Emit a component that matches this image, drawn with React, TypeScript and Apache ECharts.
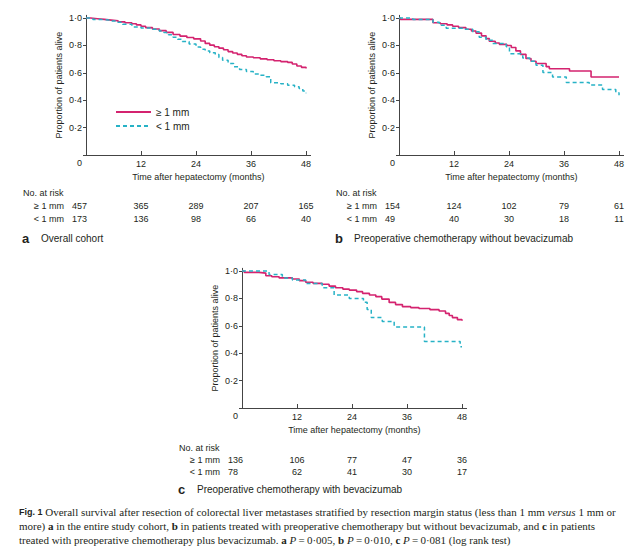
import React, { useEffect, useRef } from 'react';
import * as echarts from 'echarts';

// ---------- data ----------
const groupNames = ['≥ 1 mm', '< 1 mm'];
const xTickValues = [0, 12, 24, 36, 48];
const xLabelValues = [12, 24, 36, 48];
const yTickValues = [0, 0.2, 0.4, 0.6, 0.8, 1.0];
const yLabelValues = [0.2, 0.4, 0.6, 0.8, 1.0];
const riskTimes = [0, 12, 24, 36, 48];

const panelLetters = ['a', 'b', 'c'];
const panelTitles = [
  'Overall cohort',
  'Preoperative chemotherapy without bevacizumab',
  'Preoperative chemotherapy with bevacizumab',
];

// survival curves [month, proportion alive]
const survA_ge: [number, number][] = [
  [0, 1.0], [1, 0.995], [2.5, 0.99], [4, 0.985], [5.5, 0.98], [7, 0.972], [8.5, 0.966], [10, 0.958],
  [11, 0.95], [12, 0.94], [13, 0.93], [14.5, 0.92], [16, 0.908], [17.5, 0.895], [19, 0.88], [20.5, 0.868],
  [22, 0.858], [23.5, 0.848], [25, 0.832], [26, 0.815], [27, 0.802], [28, 0.79], [29, 0.78], [30, 0.768],
  [31, 0.755], [32, 0.745], [33, 0.735], [34, 0.725], [35, 0.716], [36.5, 0.71], [38, 0.702], [39.5, 0.695],
  [41, 0.688], [42.5, 0.682], [44, 0.676], [45, 0.664], [46, 0.65], [47, 0.64], [48, 0.632],
];
const survA_lt: [number, number][] = [
  [0, 1.0], [1.5, 0.99], [3, 0.985], [5, 0.978], [6.5, 0.97], [8, 0.955], [10, 0.935], [12, 0.928],
  [14, 0.918], [16, 0.905], [17, 0.895], [18, 0.878], [19, 0.86], [20, 0.845], [21, 0.828], [22.5, 0.81],
  [24, 0.788], [25, 0.772], [26, 0.76], [27, 0.746], [28.2, 0.733], [29, 0.712], [29.8, 0.692], [31, 0.668],
  [32.2, 0.645], [33.5, 0.625], [35, 0.61], [36.5, 0.592], [38, 0.582], [39.3, 0.572], [40.3, 0.528],
  [42.5, 0.52], [44, 0.51], [45.5, 0.498], [46.5, 0.485], [47.3, 0.468], [48, 0.45],
];
const survB_ge: [number, number][] = [
  [0, 1.0], [0.3, 0.99], [7.4, 0.966], [9, 0.958], [10.5, 0.95], [11.7, 0.94], [13, 0.93], [14.6, 0.918],
  [15.8, 0.905], [16.8, 0.89], [18, 0.87], [19, 0.85], [19.7, 0.83], [21, 0.818], [21.9, 0.808], [23.5, 0.8],
  [24.5, 0.785], [25.5, 0.76], [26.5, 0.735], [27.7, 0.705], [28.8, 0.685], [29.9, 0.668], [32.1, 0.645],
  [32.8, 0.63], [37.2, 0.613], [41.9, 0.569], [48, 0.569],
];
const survB_lt: [number, number][] = [
  [0, 1.0], [3, 0.99], [7.4, 0.97], [8.8, 0.947], [10.3, 0.925], [13.9, 0.918], [16.1, 0.9], [17.5, 0.86],
  [19, 0.838], [20.4, 0.815], [23.4, 0.79], [24.1, 0.74], [27, 0.708], [28.5, 0.685], [29.9, 0.655],
  [31.4, 0.602], [33.5, 0.57], [36.5, 0.53], [41.5, 0.512], [44.4, 0.478], [47.3, 0.455], [48, 0.437],
];
const survC_ge: [number, number][] = [
  [0, 1.0], [0.5, 0.99], [3.7, 0.985], [5.2, 0.966], [6.5, 0.958], [8.1, 0.95], [11, 0.942], [12.5, 0.93],
  [13.9, 0.918], [15.5, 0.91], [17.5, 0.903], [19, 0.89], [20.4, 0.878], [22, 0.868], [23.4, 0.861], [25, 0.85],
  [26.3, 0.837], [27.8, 0.825], [29.2, 0.813], [30.5, 0.795], [32.1, 0.771], [33.5, 0.755], [35, 0.74],
  [36.8, 0.733], [38.6, 0.727], [41, 0.718], [43, 0.708], [44.4, 0.691], [45.2, 0.675], [45.9, 0.66],
  [47, 0.645], [48, 0.637],
];
const survC_lt: [number, number][] = [
  [0, 1.0], [5.9, 0.975], [8.8, 0.95], [11, 0.934], [13.9, 0.909], [17.5, 0.878], [20.1, 0.825], [23.4, 0.8],
  [26.5, 0.772], [27.3, 0.72], [28.2, 0.66], [30.6, 0.632], [33.2, 0.592], [39.8, 0.486], [47.6, 0.448], [48, 0.448],
];

// numbers at risk
const riskA_ge = [457, 365, 289, 207, 165];
const riskA_lt = [173, 136, 98, 66, 40];
const riskB_ge = [154, 124, 102, 79, 61];
const riskB_lt = [49, 40, 30, 18, 11];
const riskC_ge = [136, 106, 77, 47, 36];
const riskC_lt = [78, 62, 41, 30, 17];

const captionLines = [
  '{fig|Fig. 1} Overall survival after resection of colorectal liver metastases stratified by resection margin status (less than 1 mm {it|versus} 1 mm or',
  'more) {b|a} in the entire study cohort, {b|b} in patients treated with preoperative chemotherapy but without bevacizumab, and {b|c} in patients',
  'treated with preoperative chemotherapy plus bevacizumab. {b|a} {it|P}\u2009=\u20090·005, {b|b} {it|P}\u2009=\u20090·010, {b|c} {it|P}\u2009=\u20090·081 (log rank test)',
];

// ---------- styling / layout ----------
const FONT = '"Liberation Sans", Arial, Helvetica, sans-serif';
const SERIF = '"Liberation Serif", "Times New Roman", serif';
const INK = '#231f20';
const AXIS = '#444444';
const MAGENTA = '#d4236f';
const CYAN = '#27b2c6';

const panels = [
  { curves: [survA_ge, survA_lt], risk: [riskA_ge, riskA_lt], grid: { left: 86, top: 15.3 }, off: { head: 38, r1: 51, r2: 64, title: 83 } },
  { curves: [survB_ge, survB_lt], risk: [riskB_ge, riskB_lt], grid: { left: 399, top: 15.3 }, off: { head: 38, r1: 51, r2: 64, title: 83 } },
  { curves: [survC_ge, survC_lt], risk: [riskC_ge, riskC_lt], grid: { left: 242, top: 268.3 }, off: { head: 40, r1: 52, r2: 64, title: 81 } },
];
const GRID_W = 224.6;
const GRID_H = 139.7;
const CAPTION_Y = [512, 526, 540];

const fmtY = (v: number) => (v <= 0 || v > 1.0001 ? '' : v.toFixed(1).replace('.', '·'));
const fmtX = (v: number) => (v <= 0 || v > 48 ? '' : String(v));

export default function App() {
  const ref = useRef<HTMLDivElement>(null);

  useEffect(() => {
    if (!ref.current) return;
    const chart = echarts.init(ref.current, null, { renderer: 'svg' });

    const option: any = {
      animation: false,
      backgroundColor: '#ffffff',
      textStyle: { fontFamily: FONT, color: INK },
      grid: panels.map((p) => ({ left: p.grid.left, top: p.grid.top, width: GRID_W, height: GRID_H, containLabel: false })),
      xAxis: panels.map((_, g) => ({
        gridIndex: g,
        type: 'value',
        min: 0,
        max: 49,
        interval: 12,
        splitLine: { show: false },
        axisLine: { lineStyle: { color: AXIS, width: 1 } },
        axisTick: { inside: true, length: 4, lineStyle: { color: AXIS }, customValues: xTickValues },
        axisLabel: { formatter: fmtX, fontSize: 9, margin: 4, color: INK, fontFamily: FONT, customValues: xLabelValues },
        name: 'Time after hepatectomy (months)',
        nameLocation: 'middle',
        nameGap: 17,
        nameTextStyle: { fontSize: 9, color: INK, fontFamily: FONT },
      })),
      yAxis: panels.map((_, g) => ({
        gridIndex: g,
        type: 'value',
        min: 0,
        max: 1.02,
        interval: 0.2,
        splitLine: { show: false },
        axisLine: { show: true, lineStyle: { color: AXIS, width: 1 } },
        axisTick: { show: true, inside: false, length: 3, lineStyle: { color: AXIS }, customValues: yTickValues },
        axisLabel: { formatter: fmtY, fontSize: 9, margin: 4, color: INK, fontFamily: FONT, customValues: yLabelValues },
        name: 'Proportion of patients alive',
        nameLocation: 'middle',
        nameGap: 23,
        nameTextStyle: { fontSize: 9, color: INK, fontFamily: FONT },
      })),
      legend: {
        data: groupNames,
        orient: 'vertical',
        left: 110,
        top: 102,
        itemWidth: 35,
        itemHeight: 8,
        itemGap: 4,
        selectedMode: false,
        itemStyle: { opacity: 0 },
        textStyle: { fontSize: 10, color: INK, fontFamily: FONT },
      },
      series: panels.flatMap((p, g) => [
        {
          name: groupNames[0],
          type: 'line',
          xAxisIndex: g,
          yAxisIndex: g,
          data: p.curves[0],
          step: 'end',
          symbol: 'none',
          color: MAGENTA,
          lineStyle: { color: MAGENTA, width: 1.6 },
        },
        {
          name: groupNames[1],
          type: 'line',
          xAxisIndex: g,
          yAxisIndex: g,
          data: p.curves[1],
          step: 'end',
          symbol: 'none',
          color: CYAN,
          lineStyle: { color: CYAN, width: 1.5, type: [4, 3] },
        },
      ]),
    };
    chart.setOption(option);

    const txt = (x: number, y: number, text: string, extra: any = {}) => ({
      type: 'text',
      x,
      y,
      silent: true,
      style: {
        text,
        fontSize: 9,
        fontFamily: FONT,
        fill: INK,
        align: 'left',
        verticalAlign: 'middle',
        ...extra,
      },
    });

    const graphics: any[] = [];
    panels.forEach((p, g) => {
      const origin = chart.convertToPixel({ gridIndex: g }, [0, 0]) as number[];
      const x0 = origin[0];
      const y0 = origin[1];
      graphics.push(txt(x0 - 6.5, y0 + 8, '0', { align: 'center' }));
      graphics.push(txt(x0 - 63, y0 + p.off.head, 'No. at risk'));
      graphics.push(txt(x0 - 22, y0 + p.off.r1, groupNames[0], { align: 'right' }));
      graphics.push(txt(x0 - 22, y0 + p.off.r2, groupNames[1], { align: 'right' }));
      riskTimes.forEach((t, i) => {
        const px = chart.convertToPixel({ xAxisIndex: g }, t) as number;
        const first = i === 0;
        const x = first ? x0 - 14 : px;
        const align = first ? 'left' : 'center';
        graphics.push(txt(x, y0 + p.off.r1, String(p.risk[0][i]), { align }));
        graphics.push(txt(x, y0 + p.off.r2, String(p.risk[1][i]), { align }));
      });
      graphics.push(txt(x0 - 64, y0 + p.off.title, panelLetters[g], { fontSize: 13, fontWeight: 'bold' }));
      graphics.push(txt(x0 - 45, y0 + p.off.title, panelTitles[g], { fontSize: 10 }));
    });

    captionLines.forEach((line, i) => {
      graphics.push({
        type: 'text',
        x: 19,
        y: CAPTION_Y[i],
        silent: true,
        style: {
          text: line,
          fontSize: 11,
          fontFamily: SERIF,
          fill: INK,
          align: 'left',
          verticalAlign: 'middle',
          rich: {
            fig: { fontFamily: FONT, fontWeight: 'bold', fontSize: 9, fill: INK },
            it: { fontFamily: SERIF, fontStyle: 'italic', fontSize: 11, fill: INK },
            b: { fontFamily: SERIF, fontWeight: 'bold', fontSize: 11, fill: INK },
          },
        },
      });
    });

    chart.setOption({ graphic: graphics });

    return () => {
      chart.dispose();
    };
  }, []);

  return (
    <div
      ref={ref}
      style={{ position: 'fixed', left: 0, top: 0, width: 640, height: 556, background: '#fff' }}
    />
  );
}
